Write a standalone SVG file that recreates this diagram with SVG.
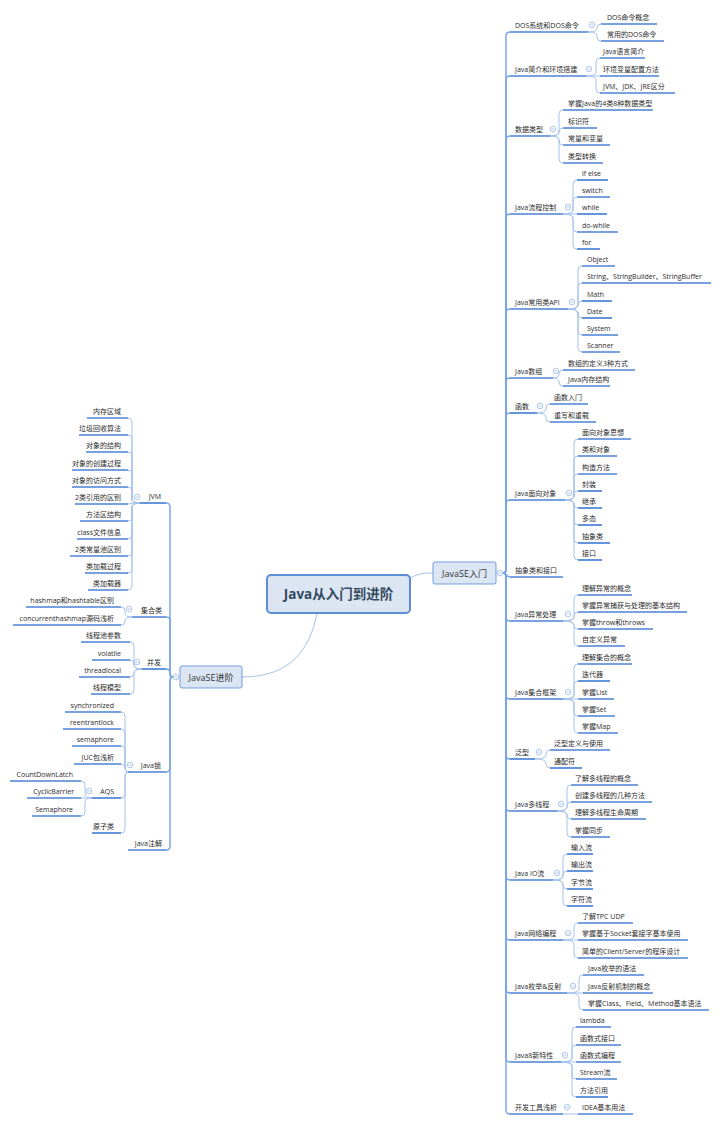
<svg xmlns="http://www.w3.org/2000/svg" xmlns:xlink="http://www.w3.org/1999/xlink" width="720" height="1123" viewBox="0 0 720 1123">
<style>
.t{font-family:"Open Sans","Noto Sans CJK SC",sans-serif;font-size:7px;fill:#2b2b2b}
.e{text-anchor:end}
.u{stroke:#4a82d4;stroke-width:1.7;fill:none}
.c1{stroke:#79a6e6;stroke-width:1.5;fill:none}
.c2{stroke:#a6c3ee;stroke-width:1;fill:none}
.box{fill:#dce6f3;stroke:#6e9de0;stroke-width:1}
.bt{font-family:"Open Sans","Noto Sans CJK SC",sans-serif;font-size:9px;fill:#333;text-anchor:middle}
</style>
<defs>
<g id="fold"><circle r="2.8" fill="#fff" stroke="#9bb8e4" stroke-width="0.8"/><path d="M-1.5 0H1.5" stroke="#9bb8e4" stroke-width="0.8"/></g>
</defs>
<rect width="720" height="1123" fill="#fff"/>
<g id="connectors">
<path class="c2" d="M410 578C420 573 425 573 433 573"/>
<path class="c2" d="M317 613C310 650 290 677 242 677"/>
<path class="c1" d="M500 573H503Q506 573 506 569V36Q506 32 510 32"/>
<path class="c1" d="M503 573Q506 573 506 569V80Q506 76 510 76"/>
<path class="c1" d="M503 573Q506 573 506 569V140Q506 136 510 136"/>
<path class="c1" d="M503 573Q506 573 506 569V218Q506 214 510 214"/>
<path class="c1" d="M503 573Q506 573 506 569V313Q506 309 510 309"/>
<path class="c1" d="M503 573Q506 573 506 569V382Q506 378 510 378"/>
<path class="c1" d="M503 573Q506 573 506 569V417Q506 413 510 413"/>
<path class="c1" d="M503 573Q506 573 506 569V504Q506 500 510 500"/>
<path class="c1" d="M503 573C506 573 506 577 510 577"/>
<path class="c1" d="M503 573Q506 573 506 577V617Q506 621 510 621"/>
<path class="c1" d="M503 573Q506 573 506 577V695Q506 699 510 699"/>
<path class="c1" d="M503 573Q506 573 506 577V755Q506 759 510 759"/>
<path class="c1" d="M503 573Q506 573 506 577V807Q506 811 510 811"/>
<path class="c1" d="M503 573Q506 573 506 577V876Q506 880 510 880"/>
<path class="c1" d="M503 573Q506 573 506 577V936Q506 940 510 940"/>
<path class="c1" d="M503 573Q506 573 506 577V989Q506 993 510 993"/>
<path class="c1" d="M503 573Q506 573 506 577V1058Q506 1062 510 1062"/>
<path class="c1" d="M503 573Q506 573 506 577V1110Q506 1114 510 1114"/>
<path class="c2" d="M588 32Q597 32 597 28Q597 24 601 24"/>
<path class="c2" d="M588 32Q597 32 597 36V37Q597 41 601 41"/>
<path class="c2" d="M586 76Q596 76 596 72V62Q596 58 600 58"/>
<path class="c2" d="M586 76H600"/>
<path class="c2" d="M586 76Q596 76 596 80V89Q596 93 600 93"/>
<path class="c2" d="M550 136Q559 136 559 132V114Q559 110 563 110"/>
<path class="c2" d="M550 136Q559 136 559 132Q559 128 563 128"/>
<path class="c2" d="M550 136Q559 136 559 140V141Q559 145 563 145"/>
<path class="c2" d="M550 136Q559 136 559 140V159Q559 163 563 163"/>
<path class="c2" d="M563 214Q573 214 573 210V184Q573 180 577 180"/>
<path class="c2" d="M563 214Q573 214 573 210V201Q573 197 577 197"/>
<path class="c2" d="M563 214H577"/>
<path class="c2" d="M563 214Q573 214 573 218V228Q573 232 577 232"/>
<path class="c2" d="M563 214Q573 214 573 218V245Q573 249 577 249"/>
<path class="c2" d="M568 309Q578 309 578 305V270Q578 266 582 266"/>
<path class="c2" d="M568 309Q578 309 578 305V287Q578 283 582 283"/>
<path class="c2" d="M568 309Q578 309 578 305Q578 301 582 301"/>
<path class="c2" d="M568 309Q578 309 578 313V314Q578 318 582 318"/>
<path class="c2" d="M568 309Q578 309 578 313V331Q578 335 582 335"/>
<path class="c2" d="M568 309Q578 309 578 313V348Q578 352 582 352"/>
<path class="c2" d="M553 378Q559 378 559 374Q559 370 563 370"/>
<path class="c2" d="M553 378Q559 378 559 382Q559 386 563 386"/>
<path class="c2" d="M537 413Q546 413 546 409V408Q546 404 550 404"/>
<path class="c2" d="M537 413Q546 413 546 417V418Q546 422 550 422"/>
<path class="c2" d="M565 500Q574 500 574 496V443Q574 439 578 439"/>
<path class="c2" d="M565 500Q574 500 574 496V460Q574 456 578 456"/>
<path class="c2" d="M565 500Q574 500 574 496V478Q574 474 578 474"/>
<path class="c2" d="M565 500Q574 500 574 496V495Q574 491 578 491"/>
<path class="c2" d="M565 500Q574 500 574 504Q574 508 578 508"/>
<path class="c2" d="M565 500Q574 500 574 504V521Q574 525 578 525"/>
<path class="c2" d="M565 500Q574 500 574 504V539Q574 543 578 543"/>
<path class="c2" d="M565 500Q574 500 574 504V556Q574 560 578 560"/>
<path class="c2" d="M563 621Q574 621 574 617V599Q574 595 578 595"/>
<path class="c2" d="M563 621Q574 621 574 617V616Q574 612 578 612"/>
<path class="c2" d="M563 621Q574 621 574 625Q574 629 578 629"/>
<path class="c2" d="M563 621Q574 621 574 625V642Q574 646 578 646"/>
<path class="c2" d="M563 699Q574 699 574 695V668Q574 664 578 664"/>
<path class="c2" d="M563 699Q574 699 574 695V685Q574 681 578 681"/>
<path class="c2" d="M563 699H578"/>
<path class="c2" d="M563 699Q574 699 574 703V712Q574 716 578 716"/>
<path class="c2" d="M563 699Q574 699 574 703V729Q574 733 578 733"/>
<path class="c2" d="M535 759Q546 759 546 755V754Q546 750 550 750"/>
<path class="c2" d="M535 759Q546 759 546 763V764Q546 768 550 768"/>
<path class="c2" d="M557 811Q567 811 567 807V789Q567 785 571 785"/>
<path class="c2" d="M557 811Q567 811 567 807V806Q567 802 571 802"/>
<path class="c2" d="M557 811Q567 811 567 815Q567 819 571 819"/>
<path class="c2" d="M557 811Q567 811 567 815V833Q567 837 571 837"/>
<path class="c2" d="M553 880Q563 880 563 876V858Q563 854 567 854"/>
<path class="c2" d="M553 880Q563 880 563 876V875Q563 871 567 871"/>
<path class="c2" d="M553 880Q563 880 563 884V885Q563 889 567 889"/>
<path class="c2" d="M553 880Q563 880 563 884V902Q563 906 567 906"/>
<path class="c2" d="M563 940Q574 940 574 936V927Q574 923 578 923"/>
<path class="c2" d="M563 940H578"/>
<path class="c2" d="M563 940Q574 940 574 944V954Q574 958 578 958"/>
<path class="c2" d="M567 993Q579 993 579 989V979Q579 975 583 975"/>
<path class="c2" d="M567 993H583"/>
<path class="c2" d="M567 993Q579 993 579 997V1006Q579 1010 583 1010"/>
<path class="c2" d="M561 1062Q572 1062 572 1058V1031Q572 1027 576 1027"/>
<path class="c2" d="M561 1062Q572 1062 572 1058V1049Q572 1045 576 1045"/>
<path class="c2" d="M561 1062H576"/>
<path class="c2" d="M561 1062Q572 1062 572 1066V1075Q572 1079 576 1079"/>
<path class="c2" d="M561 1062Q572 1062 572 1066V1093Q572 1097 576 1097"/>
<path class="c2" d="M563 1114H578"/>
<path class="c1" d="M176 677H173Q170 677 170 673V507Q170 503 166 503"/>
<path class="c1" d="M173 677Q170 677 170 673V621Q170 617 166 617"/>
<path class="c1" d="M173 677Q170 677 170 673Q170 669 166 669"/>
<path class="c1" d="M173 677Q170 677 170 681V768Q170 772 166 772"/>
<path class="c1" d="M173 677Q170 677 170 681V846Q170 850 166 850"/>
<path class="c2" d="M140 503Q132 503 132 499V422Q132 418 128 418"/>
<path class="c2" d="M140 503Q132 503 132 499V439Q132 435 128 435"/>
<path class="c2" d="M140 503Q132 503 132 499V456Q132 452 128 452"/>
<path class="c2" d="M140 503Q132 503 132 499V474Q132 470 128 470"/>
<path class="c2" d="M140 503Q132 503 132 499V491Q132 487 128 487"/>
<path class="c2" d="M140 503Q134 503 128 504"/>
<path class="c2" d="M140 503Q132 503 132 507V517Q132 521 128 521"/>
<path class="c2" d="M140 503Q132 503 132 507V535Q132 539 128 539"/>
<path class="c2" d="M140 503Q132 503 132 507V552Q132 556 128 556"/>
<path class="c2" d="M140 503Q132 503 132 507V569Q132 573 128 573"/>
<path class="c2" d="M140 503Q132 503 132 507V586Q132 590 128 590"/>
<path class="c2" d="M132 617Q125 617 125 613V611Q125 607 121 607"/>
<path class="c2" d="M132 617Q125 617 125 621Q125 625 121 625"/>
<path class="c2" d="M142 669Q134 669 134 665V646Q134 642 130 642"/>
<path class="c2" d="M142 669Q134 669 134 665V664Q134 660 130 660"/>
<path class="c2" d="M142 669Q134 669 134 673Q134 677 130 677"/>
<path class="c2" d="M142 669Q134 669 134 673V690Q134 694 130 694"/>
<path class="c2" d="M129 772Q125 772 125 768V716Q125 712 121 712"/>
<path class="c2" d="M129 772Q125 772 125 768V733Q125 729 121 729"/>
<path class="c2" d="M129 772Q125 772 125 768V750Q125 746 121 746"/>
<path class="c2" d="M129 772Q125 772 125 768Q125 764 121 764"/>
<path class="c2" d="M129 772Q125 772 125 776V794Q125 798 121 798"/>
<path class="c2" d="M129 772Q125 772 125 776V829Q125 833 121 833"/>
<path class="c2" d="M92 798Q85 798 85 794V785Q85 781 81 781"/>
<path class="c2" d="M92 798H81"/>
<path class="c2" d="M92 798Q85 798 85 802V812Q85 816 81 816"/>
</g>

<g id="root"><rect x="267" y="575" width="143" height="38" rx="4" fill="#dce6f3" stroke="#5b8ed6" stroke-width="2"/><text x="338.5" y="599" font-family="Open Sans,Noto Sans CJK SC,sans-serif" font-size="13.5" font-weight="bold" fill="#34495e" text-anchor="middle">Java从入门到进阶</text></g>
<g id="javase-basic"><rect class="box" x="433" y="562" width="63" height="22" rx="2"/><text class="bt" x="464.5" y="576.5">JavaSE入门</text><use xlink:href="#fold" x="500" y="573"/></g>
<g id="javase-adv"><rect class="box" x="180" y="666" width="62" height="22" rx="2"/><text class="bt" x="211" y="680.5">JavaSE进阶</text><use xlink:href="#fold" x="176" y="677"/></g>

<g id="r-dos"><path class="u" d="M510 32H588"/><text class="t" x="515" y="28">DOS系统和DOS命令</text><use xlink:href="#fold" x="592" y="25"/></g>
<g id="r-intro"><path class="u" d="M510 76H586"/><text class="t" x="515" y="72">Java简介和环境搭建</text><use xlink:href="#fold" x="589" y="69"/></g>
<g id="r-type"><path class="u" d="M510 136H550"/><text class="t" x="515" y="132">数据类型</text><use xlink:href="#fold" x="553" y="129"/></g>
<g id="r-flow"><path class="u" d="M510 214H563"/><text class="t" x="515" y="210">Java流程控制</text><use xlink:href="#fold" x="568" y="207"/></g>
<g id="r-api"><path class="u" d="M510 309H568"/><text class="t" x="515" y="305">Java常用类API</text><use xlink:href="#fold" x="572" y="302"/></g>
<g id="r-array"><path class="u" d="M510 378H553"/><text class="t" x="515" y="374">Java数组</text><use xlink:href="#fold" x="556" y="371"/></g>
<g id="r-func"><path class="u" d="M510 413H537"/><text class="t" x="515" y="409">函数</text><use xlink:href="#fold" x="540" y="406"/></g>
<g id="r-oop"><path class="u" d="M510 500H565"/><text class="t" x="515" y="496">Java面向对象</text><use xlink:href="#fold" x="569" y="493"/></g>
<g id="r-abstract"><path class="u" d="M510 577H563"/><text class="t" x="515" y="573">抽象类和接口</text></g>
<g id="r-exc"><path class="u" d="M510 621H563"/><text class="t" x="515" y="617">Java异常处理</text><use xlink:href="#fold" x="568" y="614"/></g>
<g id="r-coll"><path class="u" d="M510 699H563"/><text class="t" x="515" y="695">Java集合框架</text><use xlink:href="#fold" x="568" y="692"/></g>
<g id="r-generic"><path class="u" d="M510 759H535"/><text class="t" x="515" y="755">泛型</text><use xlink:href="#fold" x="539" y="752"/></g>
<g id="r-thread"><path class="u" d="M510 811H557"/><text class="t" x="515" y="807">Java多线程</text><use xlink:href="#fold" x="561" y="804"/></g>
<g id="r-io"><path class="u" d="M510 880H553"/><text class="t" x="515" y="876">Java IO流</text><use xlink:href="#fold" x="557" y="873"/></g>
<g id="r-net"><path class="u" d="M510 940H563"/><text class="t" x="515" y="936">Java网络编程</text><use xlink:href="#fold" x="568" y="933"/></g>
<g id="r-enum"><path class="u" d="M510 993H567"/><text class="t" x="515" y="989">Java枚举&amp;反射</text><use xlink:href="#fold" x="573" y="986"/></g>
<g id="r-java8"><path class="u" d="M510 1062H561"/><text class="t" x="515" y="1058">Java8新特性</text><use xlink:href="#fold" x="565" y="1055"/></g>
<g id="r-tool"><path class="u" d="M510 1114H563"/><text class="t" x="515" y="1110">开发工具浅析</text><use xlink:href="#fold" x="567" y="1107"/></g>

<g id="r-dos-1"><path class="u" d="M601 24H657"/><text class="t" x="607" y="20">DOS命令概念</text></g>
<g id="r-dos-2"><path class="u" d="M601 41H664"/><text class="t" x="607" y="37">常用的DOS命令</text></g>
<g id="r-intro-1"><path class="u" d="M600 58H645"/><text class="t" x="603" y="54">Java语言简介</text></g>
<g id="r-intro-2"><path class="u" d="M600 76H659"/><text class="t" x="603" y="72">环境变量配置方法</text></g>
<g id="r-intro-3"><path class="u" d="M600 93H675"/><text class="t" x="603" y="89">JVM、JDK、JRE区分</text></g>
<g id="r-type-1"><path class="u" d="M563 110H653"/><text class="t" x="568" y="106">掌握Java的4类8种数据类型</text></g>
<g id="r-type-2"><path class="u" d="M563 128H597"/><text class="t" x="568" y="124">标识符</text></g>
<g id="r-type-3"><path class="u" d="M563 145H610"/><text class="t" x="568" y="141">常量和变量</text></g>
<g id="r-type-4"><path class="u" d="M563 163H603"/><text class="t" x="568" y="159">类型转换</text></g>
<g id="r-flow-1"><path class="u" d="M577 180H608"/><text class="t" x="582" y="176">if else</text></g>
<g id="r-flow-2"><path class="u" d="M577 197H610"/><text class="t" x="582" y="193">switch</text></g>
<g id="r-flow-3"><path class="u" d="M577 214H607"/><text class="t" x="582" y="210">while</text></g>
<g id="r-flow-4"><path class="u" d="M577 232H618"/><text class="t" x="582" y="228">do-while</text></g>
<g id="r-flow-5"><path class="u" d="M577 249H600"/><text class="t" x="582" y="245">for</text></g>
<g id="r-api-1"><path class="u" d="M582 266H615"/><text class="t" x="587" y="262">Object</text></g>
<g id="r-api-2"><path class="u" d="M582 283H711"/><text class="t" x="587" y="279">String、StringBuilder、StringBuffer</text></g>
<g id="r-api-3"><path class="u" d="M582 301H612"/><text class="t" x="587" y="297">Math</text></g>
<g id="r-api-4"><path class="u" d="M582 318H612"/><text class="t" x="587" y="314">Date</text></g>
<g id="r-api-5"><path class="u" d="M582 335H618"/><text class="t" x="587" y="331">System</text></g>
<g id="r-api-6"><path class="u" d="M582 352H620"/><text class="t" x="587" y="348">Scanner</text></g>
<g id="r-array-1"><path class="u" d="M563 370H635"/><text class="t" x="568" y="366">数组的定义3种方式</text></g>
<g id="r-array-2"><path class="u" d="M563 386H610"/><text class="t" x="568" y="382">Java内存结构</text></g>
<g id="r-func-1"><path class="u" d="M550 404H588"/><text class="t" x="554" y="400">函数入门</text></g>
<g id="r-func-2"><path class="u" d="M550 422H596"/><text class="t" x="554" y="418">重写和重载</text></g>
<g id="r-oop-1"><path class="u" d="M578 439H631"/><text class="t" x="582" y="435">面向对象思想</text></g>
<g id="r-oop-2"><path class="u" d="M578 456H617"/><text class="t" x="582" y="452">类和对象</text></g>
<g id="r-oop-3"><path class="u" d="M578 474H617"/><text class="t" x="582" y="470">构造方法</text></g>
<g id="r-oop-4"><path class="u" d="M578 491H602"/><text class="t" x="582" y="487">封装</text></g>
<g id="r-oop-5"><path class="u" d="M578 508H602"/><text class="t" x="582" y="504">继承</text></g>
<g id="r-oop-6"><path class="u" d="M578 525H602"/><text class="t" x="582" y="521">多态</text></g>
<g id="r-oop-7"><path class="u" d="M578 543H610"/><text class="t" x="582" y="539">抽象类</text></g>
<g id="r-oop-8"><path class="u" d="M578 560H602"/><text class="t" x="582" y="556">接口</text></g>
<g id="r-exc-1"><path class="u" d="M578 595H632"/><text class="t" x="582" y="591">理解异常的概念</text></g>
<g id="r-exc-2"><path class="u" d="M578 612H687"/><text class="t" x="582" y="608">掌握异常捕获与处理的基本结构</text></g>
<g id="r-exc-3"><path class="u" d="M578 629H653"/><text class="t" x="582" y="625">掌握throw和throws</text></g>
<g id="r-exc-4"><path class="u" d="M578 646H625"/><text class="t" x="582" y="642">自定义异常</text></g>
<g id="r-coll-1"><path class="u" d="M578 664H632"/><text class="t" x="582" y="660">理解集合的概念</text></g>
<g id="r-coll-2"><path class="u" d="M578 681H610"/><text class="t" x="582" y="677">迭代器</text></g>
<g id="r-coll-3"><path class="u" d="M578 699H614"/><text class="t" x="582" y="695">掌握List</text></g>
<g id="r-coll-4"><path class="u" d="M578 716H615"/><text class="t" x="582" y="712">掌握Set</text></g>
<g id="r-coll-5"><path class="u" d="M578 733H618"/><text class="t" x="582" y="729">掌握Map</text></g>
<g id="r-generic-1"><path class="u" d="M550 750H610"/><text class="t" x="554" y="746">泛型定义与使用</text></g>
<g id="r-generic-2"><path class="u" d="M550 768H582"/><text class="t" x="554" y="764">通配符</text></g>
<g id="r-thread-1"><path class="u" d="M571 785H638"/><text class="t" x="575" y="781">了解多线程的概念</text></g>
<g id="r-thread-2"><path class="u" d="M571 802H652"/><text class="t" x="575" y="798">创建多线程的几种方法</text></g>
<g id="r-thread-3"><path class="u" d="M571 819H646"/><text class="t" x="575" y="815">理解多线程生命周期</text></g>
<g id="r-thread-4"><path class="u" d="M571 837H610"/><text class="t" x="575" y="833">掌握同步</text></g>
<g id="r-io-1"><path class="u" d="M567 854H593"/><text class="t" x="571" y="850">输入流</text></g>
<g id="r-io-2"><path class="u" d="M567 871H593"/><text class="t" x="571" y="867">输出流</text></g>
<g id="r-io-3"><path class="u" d="M567 889H593"/><text class="t" x="571" y="885">字节流</text></g>
<g id="r-io-4"><path class="u" d="M567 906H593"/><text class="t" x="571" y="902">字符流</text></g>
<g id="r-net-1"><path class="u" d="M578 923H633"/><text class="t" x="582" y="919">了解TPC UDP</text></g>
<g id="r-net-2"><path class="u" d="M578 940H688"/><text class="t" x="582" y="936">掌握基于Socket套接字基本使用</text></g>
<g id="r-net-3"><path class="u" d="M578 958H688"/><text class="t" x="582" y="954">简单的Client/Server的程序设计</text></g>
<g id="r-enum-1"><path class="u" d="M583 975H644"/><text class="t" x="588" y="971">Java枚举的语法</text></g>
<g id="r-enum-2"><path class="u" d="M583 993H653"/><text class="t" x="588" y="989">Java反射机制的概念</text></g>
<g id="r-enum-3"><path class="u" d="M583 1010H709"/><text class="t" x="588" y="1006">掌握Class、Field、Method基本语法</text></g>
<g id="r-java8-1"><path class="u" d="M576 1027H611"/><text class="t" x="580" y="1023">lambda</text></g>
<g id="r-java8-2"><path class="u" d="M576 1045H621"/><text class="t" x="580" y="1041">函数式接口</text></g>
<g id="r-java8-3"><path class="u" d="M576 1062H621"/><text class="t" x="580" y="1058">函数式编程</text></g>
<g id="r-java8-4"><path class="u" d="M576 1079H617"/><text class="t" x="580" y="1075">Stream流</text></g>
<g id="r-java8-5"><path class="u" d="M576 1097H608"/><text class="t" x="580" y="1093">方法引用</text></g>
<g id="r-tool-1"><path class="u" d="M578 1114H633"/><text class="t" x="582" y="1110">IDEA基本用法</text></g>

<g id="l-jvm"><path class="u" d="M140 503H166"/><text class="t e" x="161" y="499">JVM</text><use xlink:href="#fold" x="137" y="497"/></g>
<g id="l-coll"><path class="u" d="M132 617H166"/><text class="t e" x="162" y="613">集合类</text><use xlink:href="#fold" x="129" y="609"/></g>
<g id="l-conc"><path class="u" d="M142 669H166"/><text class="t e" x="161" y="665">并发</text><use xlink:href="#fold" x="137" y="662"/></g>
<g id="l-lock"><path class="u" d="M128 772H166"/><text class="t e" x="161" y="768">Java锁</text><use xlink:href="#fold" x="130" y="765"/></g>
<g id="l-anno"><path class="u" d="M128 850H166"/><text class="t e" x="162" y="846">Java注解</text></g>

<g id="l-jvm-1"><path class="u" d="M87 418H128"/><text class="t e" x="121" y="414">内存区域</text></g>
<g id="l-jvm-2"><path class="u" d="M79 435H128"/><text class="t e" x="121" y="431">垃圾回收算法</text></g>
<g id="l-jvm-3"><path class="u" d="M86 452H128"/><text class="t e" x="121" y="448">对象的结构</text></g>
<g id="l-jvm-4"><path class="u" d="M72 470H128"/><text class="t e" x="121" y="466">对象的创建过程</text></g>
<g id="l-jvm-5"><path class="u" d="M72 487H128"/><text class="t e" x="121" y="483">对象的访问方式</text></g>
<g id="l-jvm-6"><path class="u" d="M75 504H128"/><text class="t e" x="121" y="500">2类引用的区别</text></g>
<g id="l-jvm-7"><path class="u" d="M80 521H128"/><text class="t e" x="121" y="517">方法区结构</text></g>
<g id="l-jvm-8"><path class="u" d="M77 539H128"/><text class="t e" x="121" y="535">class文件信息</text></g>
<g id="l-jvm-9"><path class="u" d="M70 556H128"/><text class="t e" x="121" y="552">2类常量池区别</text></g>
<g id="l-jvm-10"><path class="u" d="M85 573H128"/><text class="t e" x="121" y="569">类加载过程</text></g>
<g id="l-jvm-11"><path class="u" d="M88 590H128"/><text class="t e" x="121" y="586">类加载器</text></g>
<g id="l-coll-1"><path class="u" d="M26 607H121"/><text class="t e" x="114" y="603">hashmap和hashtable区别</text></g>
<g id="l-coll-2"><path class="u" d="M13 625H121"/><text class="t e" x="114" y="621">concurrenthashmap源码浅析</text></g>
<g id="l-conc-1"><path class="u" d="M81 642H130"/><text class="t e" x="121" y="638">线程池参数</text></g>
<g id="l-conc-2"><path class="u" d="M92 660H130"/><text class="t e" x="121" y="656">volatile</text></g>
<g id="l-conc-3"><path class="u" d="M79 677H130"/><text class="t e" x="121" y="673">threadlocal</text></g>
<g id="l-conc-4"><path class="u" d="M91 694H130"/><text class="t e" x="121" y="690">线程模型</text></g>
<g id="l-lock-1"><path class="u" d="M65 712H121"/><text class="t e" x="114" y="708">synchronized</text></g>
<g id="l-lock-2"><path class="u" d="M63 729H121"/><text class="t e" x="114" y="725">reentrantlock</text></g>
<g id="l-lock-3"><path class="u" d="M72 746H121"/><text class="t e" x="114" y="742">semaphore</text></g>
<g id="l-lock-4"><path class="u" d="M74 764H121"/><text class="t e" x="114" y="760">JUC包浅析</text></g>
<g id="l-lock-5"><path class="u" d="M92 798H121"/><text class="t e" x="114" y="794">AQS</text><use xlink:href="#fold" x="89" y="791"/></g>
<g id="l-lock-6"><path class="u" d="M92 833H121"/><text class="t e" x="114" y="829">原子类</text></g>
<g id="l-aqs-1"><path class="u" d="M10 781H81"/><text class="t e" x="73" y="777">CountDownLatch</text></g>
<g id="l-aqs-2"><path class="u" d="M27 798H81"/><text class="t e" x="74" y="794">CyclicBarrier</text></g>
<g id="l-aqs-3"><path class="u" d="M32 816H81"/><text class="t e" x="73" y="812">Semaphore</text></g>
</svg>
